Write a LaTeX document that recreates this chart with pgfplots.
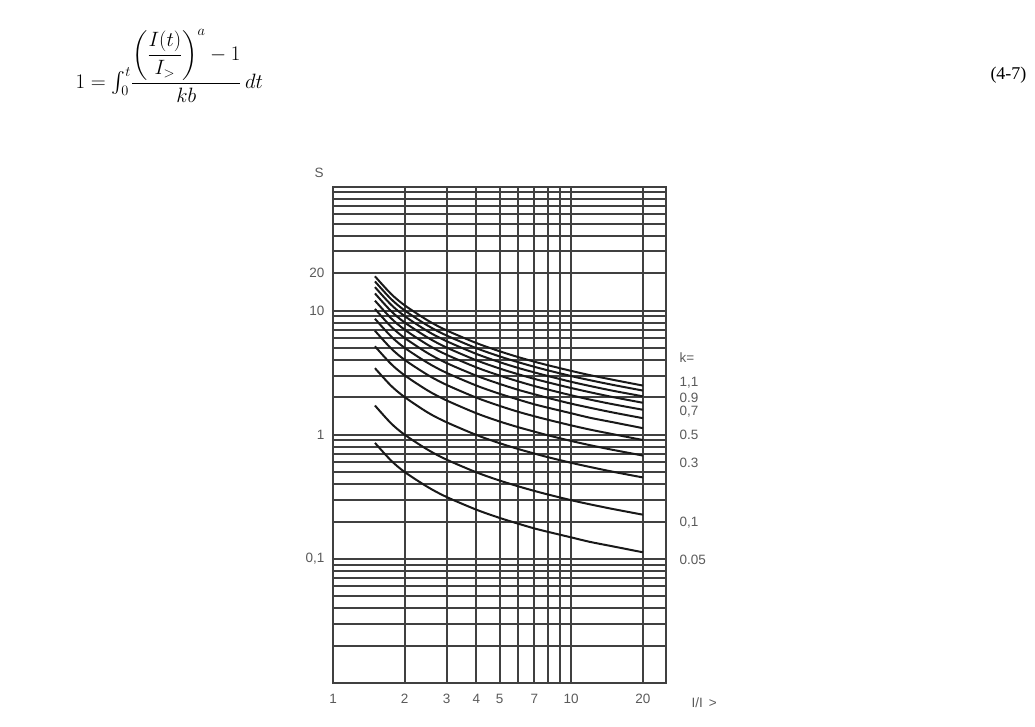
\documentclass[border=0pt]{standalone}
\usepackage{amsmath}
\usepackage{pgfplots}
\pgfplotsset{compat=1.18}
\usepackage{pgfplotstable}
\usepackage{fontspec}
\setmainfont{Liberation Sans}
\newfontfamily\serif{Liberation Serif}
\definecolor{labelgray}{RGB}{90,90,90}

% Operating time t (s) of the inverse-time relay against I/I>, one column per setting k
\pgfplotstableread{
x     k110   k100   k090   k080   k070   k060   k050   k040   k030   k020   k010   k005
1.5   18.91  17.19  15.47  13.76  12.04  10.32  8.60   6.88   5.16   3.44   1.72   0.860
1.75  13.68  12.44  11.20  9.95   8.71   7.46   6.22   4.98   3.73   2.49   1.24   0.622
2     11.03  10.03  9.03   8.02   7.02   6.02   5.01   4.01   3.01   2.01   1.00   0.501
2.5   8.33   7.57   6.81   6.06   5.30   4.54   3.79   3.03   2.27   1.51   0.757  0.379
3     6.93   6.30   5.67   5.04   4.41   3.78   3.15   2.52   1.89   1.26   0.630  0.315
4     5.48   4.98   4.48   3.98   3.49   2.99   2.49   1.99   1.49   0.996  0.498  0.249
5     4.71   4.28   3.85   3.42   3.00   2.57   2.14   1.71   1.28   0.856  0.428  0.214
6     4.22   3.84   3.45   3.07   2.69   2.30   1.92   1.53   1.15   0.767  0.384  0.192
7     3.88   3.53   3.18   2.82   2.47   2.12   1.76   1.41   1.06   0.706  0.353  0.176
8     3.63   3.30   2.97   2.64   2.31   1.98   1.65   1.32   0.989  0.659  0.330  0.165
10    3.27   2.97   2.67   2.38   2.08   1.78   1.49   1.19   0.891  0.594  0.297  0.149
12    3.02   2.75   2.47   2.20   1.92   1.65   1.37   1.10   0.824  0.550  0.275  0.137
15    2.77   2.52   2.26   2.01   1.76   1.51   1.26   1.01   0.755  0.503  0.252  0.126
20    2.49   2.27   2.04   1.81   1.59   1.36   1.13   0.907  0.680  0.453  0.227  0.113
}\curves

\tikzset{curve/.style={black!90, solid, line width=2pt, smooth, mark=none}}

\begin{document}
\begin{tikzpicture}
\useasboundingbox (0pt,0pt) rectangle (1035pt,726pt);

% defining equation
\node[anchor=west] at (72pt,660pt) {\fontsize{20}{24}\selectfont
  $\displaystyle 1 = {\textstyle\int_0^t} \frac{\left(\dfrac{I(t)}{I_>}\right)^{a}-1}{kb}\,dt$};
\node[anchor=east] at (1030pt,651pt) {\serif\fontsize{18}{20}\selectfont (4-7)};

\begin{axis}[
  at={(333pt,43pt)}, anchor=south west,
  scale only axis, width=333pt, height=496.5pt,
  xmode=log, ymode=log,
  xmin=1, xmax=25, ymin=0.01, ymax=100,
  xtick={1,2,3,4,5,6,7,8,9,10,20},
  xticklabels={1,2,3,4,5,,7,,,10,20},
  ytick={0.1,1,10,20},
  yticklabels={{0,1},1,10,20},
  minor ytick={0.02,0.03,0.04,0.05,0.06,0.07,0.08,0.09,
               0.2,0.3,0.4,0.5,0.6,0.7,0.8,0.9,
               2,3,4,5,6,7,8,9,30,40,50,60,70,80,90},
  xmajorgrids=true, ymajorgrids=true, yminorgrids=true,
  grid style={black!75, line width=2pt},
  major grid style={black!75, line width=2pt},
  minor grid style={black!75, line width=2pt},
  axis line style={black!75, line width=2pt},
  major tick length=0pt, minor tick length=0pt,
  tick label style={font=\fontsize{13.5}{15}\selectfont, text=labelgray},
  xticklabel shift=8pt,
  yticklabel shift=5pt,
]
\addplot[curve] table[x=x,y=k110]{\curves};
\addplot[curve] table[x=x,y=k100]{\curves};
\addplot[curve] table[x=x,y=k090]{\curves};
\addplot[curve] table[x=x,y=k080]{\curves};
\addplot[curve] table[x=x,y=k070]{\curves};
\addplot[curve] table[x=x,y=k060]{\curves};
\addplot[curve] table[x=x,y=k050]{\curves};
\addplot[curve] table[x=x,y=k040]{\curves};
\addplot[curve] table[x=x,y=k030]{\curves};
\addplot[curve] table[x=x,y=k020]{\curves};
\addplot[curve] table[x=x,y=k010]{\curves};
\addplot[curve] table[x=x,y=k005]{\curves};
\end{axis}

% axis captions
\begin{scope}[every node/.style={text=labelgray, font=\fontsize{13.5}{15}\selectfont}]
\node at (319pt,553pt) {S};
\node[anchor=west] at (688pt,23pt) {I/I \,>};
\node[anchor=west] at (676pt,368pt) {k=};
\node[anchor=west] at (676pt,343pt) {1,1};
\node[anchor=west] at (676pt,328pt) {0.9};
\node[anchor=west] at (676pt,314pt) {0,7};
\node[anchor=west] at (676pt,291pt) {0.5};
\node[anchor=west] at (676pt,263pt) {0.3};
\node[anchor=west] at (676pt,203pt) {0,1};
\node[anchor=west] at (676pt,166pt) {0.05};
\end{scope}
\end{tikzpicture}
\end{document}
